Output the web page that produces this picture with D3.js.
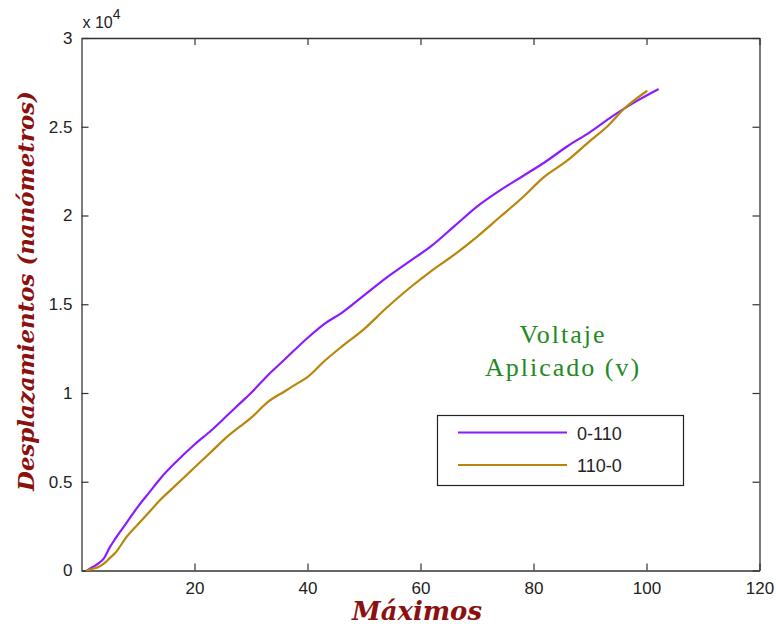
<!DOCTYPE html>
<html>
<head>
<meta charset="utf-8">
<script src="https://cdn.jsdelivr.net/npm/d3@7"></script>
<style>
  html, body { margin: 0; padding: 0; background: #ffffff; }
  svg { display: block; }
</style>
</head>
<body>
<div id="chart"></div>
<script>
// ---- data (values in units of 1e4 nm) ----
const seriesNames = ["0-110", "110-0"];
const upX = [1,2,3,4,5,6,8,10,12,14,17,20,23,26,28,30,33,36,40,43,46,50,54,58,62,66,70,74,78,82,86,90,94,98,102];
const upY = [0,0.02,0.04,0.07,0.13,0.18,0.27,0.36,0.44,0.52,0.62,0.71,0.79,0.88,0.94,1.00,1.10,1.19,1.31,1.39,1.45,1.55,1.65,1.74,1.83,1.94,2.05,2.14,2.22,2.30,2.39,2.47,2.56,2.64,2.71];
const downX = [1,2,3,4,5,6,8,10,12,14,16,18,20,23,26,28,30,33,36,38,40,43,46,50,54,58,62,66,70,74,78,82,86,90,93,96,100];
const downY = [0,0.01,0.02,0.04,0.07,0.10,0.19,0.26,0.33,0.40,0.46,0.52,0.58,0.67,0.76,0.81,0.86,0.95,1.01,1.05,1.09,1.18,1.26,1.36,1.48,1.59,1.69,1.78,1.88,1.99,2.10,2.22,2.31,2.42,2.50,2.60,2.70];
const xTicks = [20,40,60,80,100,120];
const yTicks = [0,0.5,1,1.5,2,2.5,3];
const yTickLabels = ["0","0.5","1","1.5","2","2.5","3"];
const colors = ["#8a1cff", "#b8860b"];

const W = 776, H = 626;
const m = {left: 81.5, right: 776 - 759.5, top: 38, bottom: 626 - 570.5};
const svg = d3.select("#chart").append("svg").attr("width", W).attr("height", H);
svg.append("rect").attr("width", W).attr("height", H).attr("fill", "#fff");

const x = d3.scaleLinear().domain([0,120]).range([m.left, W - m.right]);
const y = d3.scaleLinear().domain([0,3]).range([H - m.bottom, m.top]);

const axisColor = "#333";
const tickFont = "'Liberation Sans', Arial, sans-serif";
const tl = 7;

// axes with inward ticks
const gx = svg.append("g").attr("transform", `translate(0,${y(0)})`)
  .call(d3.axisBottom(x).tickValues(xTicks).tickSize(-tl).tickPadding(11).tickSizeOuter(0));
const gxTop = svg.append("g").attr("transform", `translate(0,${y(3)})`)
  .call(d3.axisTop(x).tickValues(xTicks).tickSize(-tl).tickFormat("").tickSizeOuter(0));
const gy = svg.append("g").attr("transform", `translate(${x(0)},0)`)
  .call(d3.axisLeft(y).tickValues(yTicks).tickSize(-tl).tickPadding(9).tickSizeOuter(0)
    .tickFormat((d,i) => yTickLabels[i]));
const gyR = svg.append("g").attr("transform", `translate(${x(120)},0)`)
  .call(d3.axisRight(y).tickValues(yTicks).tickSize(-tl).tickFormat("").tickSizeOuter(0));

[gx, gxTop, gy, gyR].forEach(g => {
  g.selectAll("path.domain").attr("stroke", axisColor).attr("stroke-width", 1.3);
  g.selectAll(".tick line").attr("stroke", axisColor).attr("stroke-width", 1.2);
  g.selectAll(".tick text").attr("fill", "#222").attr("font-family", tickFont).attr("font-size", 17);
});

// exponent label
const expo = svg.append("text").attr("x", x(0) + 1).attr("y", 28)
  .attr("font-family", tickFont).attr("font-size", 16).attr("fill", "#222");
expo.append("tspan").text("x 10");
expo.append("tspan").attr("dy", -9).attr("font-size", 14).text("4");

// lines
const line = d3.line().curve(d3.curveMonotoneX).x(d => x(d[0])).y(d => y(d[1]));
const series = [d3.zip(upX, upY), d3.zip(downX, downY)];
series.forEach((s, i) => {
  svg.append("path").datum(s).attr("d", line)
    .attr("fill", "none").attr("stroke", colors[i]).attr("stroke-width", 2.2)
    .attr("stroke-linejoin", "round").attr("stroke-linecap", "round");
});

// legend
const lg = svg.append("g");
lg.append("rect").attr("x", 437.5).attr("y", 415.5).attr("width", 246).attr("height", 70)
  .attr("fill", "#fff").attr("stroke", "#222").attr("stroke-width", 1.2);
seriesNames.forEach((name, i) => {
  const ly = 432.5 + i * 32.5;
  lg.append("line").attr("x1", 458).attr("x2", 567).attr("y1", ly).attr("y2", ly)
    .attr("stroke", colors[i]).attr("stroke-width", 2.2);
  lg.append("text").attr("x", 577).attr("y", ly + 7).text(name)
    .attr("font-family", tickFont).attr("font-size", 18).attr("fill", "#222");
});

// annotation
const ann = svg.append("text").attr("text-anchor", "middle")
  .attr("font-family", "'Liberation Serif', 'DejaVu Serif', serif").attr("font-size", 26)
  .attr("letter-spacing", 2).attr("fill", "#1f8a1f");
ann.append("tspan").attr("x", 563).attr("y", 343).text("Voltaje");
ann.append("tspan").attr("x", 563).attr("y", 376).text("Aplicado (v)");

// axis titles, sized to the reference's text extents
const titleFont = "'DejaVu Serif', 'Liberation Serif', serif";
function fitText(sel, target) {
  const len = sel.node().getComputedTextLength();
  const fs = parseFloat(sel.attr("font-size"));
  sel.attr("font-size", (fs * target / len).toFixed(2));
}
const xt = svg.append("text").attr("x", 417).attr("y", 620).attr("text-anchor", "middle")
  .attr("font-family", titleFont).attr("font-weight", "bold").attr("font-style", "italic")
  .attr("font-size", 24).attr("fill", "#8b1010").text("Máximos");
fitText(xt, 130);
const yt = svg.append("text").attr("transform", "translate(34,291) rotate(-90)").attr("text-anchor", "middle")
  .attr("font-family", titleFont).attr("font-weight", "bold").attr("font-style", "italic")
  .attr("font-size", 24).attr("fill", "#8b1010").text("Desplazamientos (nanómetros)");
fitText(yt, 400);
</script>
</body>
</html>
